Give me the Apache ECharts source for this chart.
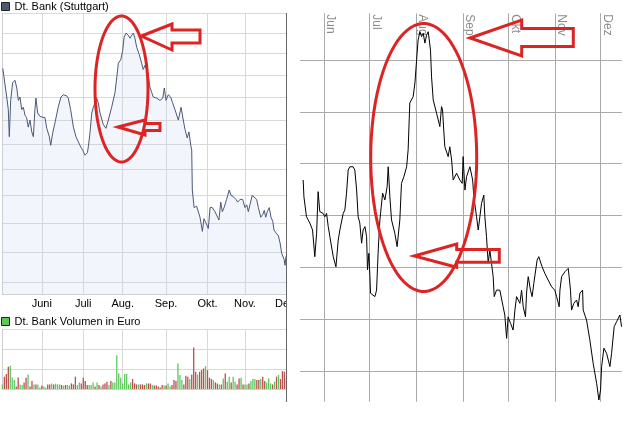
<!DOCTYPE html>
<html><head><meta charset="utf-8">
<script src="https://cdn.jsdelivr.net/npm/echarts@6/dist/echarts.min.js"></script>
<style>html,body{margin:0;padding:0;background:#fff}#c{width:627px;height:432px}</style>
</head><body><div id="c"></div>
<script>
// ---------- DATA ----------
const priceTitle = 'Dt. Bank (Stuttgart)';
const volumeTitle = 'Dt. Bank Volumen in Euro';
const priceMonthLabels = ['Juni','Juli','Aug.','Sep.','Okt.','Nov.','Dez.'];
const priceMonthTicks = [20,41,61,83,104,123,144];           // trading-day index
const priceGridValues = [36,38,40,42,44,46,48,50,52,54,56,58]; // log scale grid
const pricePoints = [
[0.2,52.6],[0.8,51.8],[2.2,50.0],[3.0,48.9],[3.5,46.6],[4.2,49.7],[5.2,51.3],[6.4,51.5],[7.3,50.8],[8.1,49.7],
[8.9,50.0],[9.8,48.9],[10.6,49.1],[11.5,48.4],[12.3,48.2],[13.1,47.4],[14.0,48.0],[14.9,47.0],[15.7,46.6],[16.5,48.9],
[17.0,49.9],[17.9,48.6],[19.1,48.3],[19.9,48.4],[21.6,48.2],[22.5,47.3],[23.8,46.6],[24.5,45.9],[25.5,46.9],[26.7,47.8],
[28.3,49.1],[29.7,50.0],[30.9,50.2],[32.6,50.1],[33.4,49.9],[34.6,48.9],[36.0,47.4],[37.3,46.6],[39.3,45.9],[40.7,45.5],
[41.9,45.1],[43.1,45.3],[43.6,45.8],[44.4,46.9],[45.3,48.6],[46.1,49.1],[47.0,49.5],[47.8,49.9],[48.6,49.5],[49.5,48.6],
[51.2,47.6],[52.5,47.3],[53.7,48.0],[55.4,49.1],[57.1,50.4],[58.0,51.8],[58.8,53.1],[60.0,53.4],[61.0,54.3],[61.7,55.6],
[62.7,56.0],[63.8,55.8],[64.7,55.5],[65.6,55.8],[66.4,56.0],[67.2,55.5],[68.1,54.6],[69.4,53.9],[70.6,53.1],[71.4,52.5],
[72.3,52.9],[73.2,52.5],[74.0,51.8],[74.8,50.9],[75.7,50.4],[76.5,50.0],[78.2,49.9],[79.9,49.7],[81.3,49.9],[82.1,50.8],
[83.0,49.7],[84.1,50.2],[85.3,50.0],[86.3,49.5],[87.5,48.9],[89.2,48.0],[90.6,49.1],[91.7,48.0],[92.6,47.2],[93.7,46.5],
[94.6,47.0],[95.5,45.9],[96.0,45.5],[96.3,42.4],[97.2,41.1],[98.5,41.2],[99.3,41.1],[100.2,40.4],[101.4,39.4],[102.2,40.3],
[103.2,40.0],[104.4,39.6],[105.3,41.1],[106.4,41.1],[107.8,40.8],[108.7,40.7],[109.8,40.2],[110.7,41.5],[111.5,40.8],[112.4,41.1],
[113.7,41.7],[115.0,42.4],[115.9,42.0],[117.1,41.9],[118.4,41.7],[119.3,41.5],[120.5,41.7],[121.8,41.7],[123.0,41.1],[123.9,41.3],
[124.7,40.8],[125.5,41.3],[126.7,42.0],[127.7,42.0],[128.9,41.7],[129.8,41.1],[131.0,40.4],[132.0,40.6],[132.8,40.9],[133.5,40.4],
[134.3,40.8],[135.3,41.1],[136.2,40.4],[137.1,40.1],[137.7,39.5],[138.7,39.3],[139.9,39.1],[140.8,38.6],[141.6,37.9],[142.8,37.5],
[143.3,37.1],[143.8,37.7]
];
const volumeValues = [
23,62,75,112,117,58,45,12,58,23, 20,33,57,73,12,40,23,23,23,8,
17,12,7,23,23,28,23,27,23,23, 20,17,20,20,17,28,23,62,20,33,
28,57,40,20,20,20,33,12,33,20, 12,23,28,37,20,40,33,33,170,78,
57,28,75,75,23,33,50,28,23,23, 23,23,20,28,28,28,20,17,17,12,
8,20,17,17,28,12,20,45,40,128, 70,45,23,67,62,50,73,208,87,73,
87,95,103,115,95,57,50,45,33,28, 23,23,53,78,37,62,33,62,37,23,
53,57,23,23,23,28,40,50,50,45, 45,50,62,40,33,53,28,23,37,62,
70,50,90,87,57
];
const volumeUp = [
1,0,0,0,1,1,1,0,0,1, 1,0,0,1,0,0,1,0,1,1,
0,1,1,0,0,1,0,1,1,1, 0,1,0,1,1,0,0,0,1,1,
0,0,0,0,1,1,1,0,1,0, 1,0,0,0,1,0,1,1,1,1,
1,1,1,1,1,1,0,0,0,1, 0,0,0,1,0,0,1,0,0,0,
0,0,1,0,1,1,0,0,0,1, 1,1,0,0,0,1,0,0,0,1,
0,0,0,1,0,0,0,1,0,0, 1,0,1,0,1,1,0,1,1,0,
0,1,0,1,1,0,1,1,1,0, 0,1,0,0,1,1,1,0,1,0,
1,0,0,0,0
];
const rightMonthLabels = ['Jun','Jul','Aug','Sep','Okt','Nov','Dez'];
const rightMonthStarts = [0,30,61,92,122,153,183];   // days since 1 June
const rightGridValues = [38,40,42,44,46,48,50];
const rightPoints = [
[-13.9,45.37],[-13.4,44.72],[-11.7,43.95],[-9.5,43.71],[-7.7,43.44],[-6.2,42.41],[-5.0,43.31],[-4.0,44.92],[-2.9,44.15],[-0.7,44.08],
[0.5,43.95],[1.6,44.08],[2.7,43.57],[3.8,43.18],[6.0,42.41],[7.8,42.02],[9.3,43.05],[10.4,43.44],[12.6,44.08],[13.7,44.21],
[14.8,44.86],[15.9,45.75],[17.0,45.88],[19.2,45.88],[20.3,45.75],[21.5,44.98],[22.5,43.95],[23.6,43.71],[24.8,42.93],[25.8,43.44],
[27.0,43.57],[28.1,43.18],[28.7,41.90],[29.6,42.54],[30.3,41.64],[30.7,41.00],[31.4,41.00],[33.6,40.87],[34.7,41.12],[35.8,42.67],
[36.9,43.83],[38.7,44.86],[40.2,44.60],[41.7,45.11],[42.4,45.88],[43.5,44.72],[44.6,43.83],[46.8,43.31],[48.3,42.80],[50.1,43.83],
[51.2,45.24],[52.8,45.50],[54.6,45.88],[55.6,46.53],[56.7,48.34],[58.9,48.58],[60.1,49.11],[61.2,50.00],[62.2,50.77],[63.4,51.09],
[64.5,50.90],[65.6,51.03],[66.7,50.65],[67.8,50.96],[68.9,51.09],[70.0,51.12],[70.4,50.38],[71.1,49.35],[72.2,48.46],[74.4,47.95],
[76.6,47.43],[77.7,48.20],[78.4,48.07],[79.3,47.18],[79.9,46.65],[82.1,46.27],[83.2,46.65],[84.4,46.14],[85.4,45.37],[87.7,45.63],
[89.8,45.37],[91.4,45.24],[92.0,46.27],[93.2,44.98],[94.3,45.50],[96.5,45.88],[98.3,45.37],[99.1,44.72],[100.9,43.95],[102.0,43.44],
[103.1,43.95],[104.2,44.47],[105.7,44.79],[106.4,43.95],[107.5,43.18],[108.6,42.16],[109.7,42.67],[110.8,42.16],[111.9,41.64],[112.6,40.87],
[114.1,41.12],[116.3,41.12],[117.5,41.12],[118.5,40.48],[119.6,40.16],[120.8,39.26],[121.8,40.09],[123.4,39.84],[125.1,39.58],[126.3,40.35],
[127.4,40.87],[129.6,40.61],[130.7,41.12],[131.8,40.48],[133.3,40.09],[134.0,41.01],[135.1,41.64],[136.6,41.12],[137.7,40.87],[138.8,41.38],
[141.0,42.28],[142.1,42.41],[144.3,42.02],[146.1,41.77],[148.3,41.51],[150.6,41.25],[152.7,41.12],[153.9,40.87],[155.6,40.48],[156.1,41.12],
[157.2,41.64],[159.4,41.83],[161.6,41.96],[162.2,41.64],[163.1,41.12],[163.8,40.35],[165.3,40.61],[167.1,40.74],[168.2,40.48],[169.3,41.00],
[171.1,41.12],[171.5,40.35],[173.7,39.97],[175.9,39.20],[178.1,38.30],[180.4,37.53],[181.9,36.88],[183.0,37.27],[183.7,38.17],[185.2,38.88],
[187.0,38.68],[189.2,38.17],[190.3,38.68],[192.0,39.71],[193.6,39.90],[195.8,40.16],[196.9,39.71]
];

// ---------- STYLE ----------
const FONT = '"Liberation Sans", Arial, sans-serif';
const RED = '#dd2424';
const volRed = '#b94f4f', volGreen = '#5cc85c';
const rightLabelShift = 4.3;

function ellipsePts(cx, cy, rx, ry) {
  const p = [];
  for (let k = 0; k < 90; k++) { const a = k / 90 * Math.PI * 2; p.push([cx + rx * Math.cos(a), cy + ry * Math.sin(a)]); }
  return p;
}
function annot(points) {
  return { type: 'polygon', z: 100, silent: true, shape: { points: points },
           style: { fill: null, stroke: RED, lineWidth: 3, lineJoin: 'miter' } };
}

const chart = echarts.init(document.getElementById('c'), null, { renderer: 'canvas' });

const leftSplit = { show: true, lineStyle: { color: '#d9d9d9', width: 1 } };

chart.setOption({
  animation: false,
  backgroundColor: '#fff',
  textStyle: { fontFamily: FONT },
  legend: [
    { data: [priceTitle], left: 1, top: 1, itemWidth: 8, itemHeight: 8, icon: 'rect', selectedMode: false, padding: 0,
      itemStyle: { borderColor: '#222', borderWidth: 1 },
      textStyle: { fontSize: 11, color: '#000', fontFamily: FONT } },
    { data: [volumeTitle], left: 1, top: 316, itemWidth: 8, itemHeight: 8, icon: 'rect', selectedMode: false, padding: 0,
      itemStyle: { borderColor: '#222', borderWidth: 1 },
      textStyle: { fontSize: 11, color: '#000', fontFamily: FONT } }
  ],
  grid: [
    { left: 2, right: 340.6, top: 13.3, bottom: 138, outerBoundsMode: 'none', containLabel: false },
    { left: 2, right: 340.6, top: 329.3, bottom: 43, outerBoundsMode: 'none', containLabel: false },
    { left: 300, right: 5.3, top: 13.3, bottom: 30.3, outerBoundsMode: 'none', containLabel: false }
  ],
  xAxis: [
    { gridIndex: 0, type: 'value', min: -0.2, max: 144, position: 'bottom',
      axisLine: { show: true, lineStyle: { color: '#cfcfcf' } },
      axisTick: { show: false, customValues: priceMonthTicks },
      axisLabel: { customValues: priceMonthTicks, margin: 4, fontSize: 11, color: '#000', fontFamily: FONT,
                   formatter: v => priceMonthLabels[priceMonthTicks.indexOf(v)] },
      splitLine: leftSplit },
    { gridIndex: 1, type: 'value', min: -0.2, max: 144, position: 'bottom',
      axisLine: { show: true, lineStyle: { color: '#cfcfcf' } },
      axisTick: { show: false, customValues: priceMonthTicks },
      axisLabel: { show: false },
      splitLine: leftSplit },
    { gridIndex: 2, type: 'value', min: -16, max: 197, position: 'top',
      axisLine: { show: false },
      axisTick: { show: false, customValues: rightMonthStarts },
      axisLabel: { customValues: rightMonthStarts.map(m => m + rightLabelShift), inside: true, rotate: 90, margin: 1,
                   fontSize: 12, color: '#8c8c8c', fontFamily: FONT,
                   formatter: v => { const i = rightMonthStarts.findIndex(m => Math.abs(m + rightLabelShift - v) < 1e-6); return i >= 0 ? rightMonthLabels[i] : ''; } },
      splitLine: { show: true, lineStyle: { color: '#aaaaaa', width: 1 } } }
  ],
  yAxis: [
    { gridIndex: 0, type: 'log', logBase: 10, min: 35.26, max: 58,
      axisLine: { show: true, lineStyle: { color: '#cfcfcf' } },
      axisTick: { show: false, customValues: priceGridValues },
      axisLabel: { show: false },
      splitLine: leftSplit },
    { gridIndex: 1, type: 'value', min: 0, max: 300, interval: 100,
      axisLine: { show: true, lineStyle: { color: '#cfcfcf' } },
      axisTick: { show: false }, axisLabel: { show: false },
      splitLine: leftSplit },
    { gridIndex: 2, type: 'value', min: 36.816, max: 51.8,
      axisLine: { show: false },
      axisTick: { show: false, customValues: rightGridValues },
      axisLabel: { show: false },
      splitLine: { show: true, lineStyle: { color: '#aaaaaa', width: 1 } } }
  ],
  series: [
    { name: priceTitle, type: 'line', xAxisIndex: 0, yAxisIndex: 0, data: pricePoints, showSymbol: false, symbol: 'none',
      color: '#4b5877', lineStyle: { color: '#4b5877', width: 1 },
      areaStyle: { color: 'rgba(190,202,236,0.28)', origin: 'start' } },
    { name: volumeTitle, type: 'bar', xAxisIndex: 1, yAxisIndex: 1, barWidth: 1.3, color: volGreen,
      data: volumeValues.map((v, i) => ({ value: [i, v], itemStyle: { color: volumeUp[i] ? volGreen : volRed } })) },
    { name: 'rechts', type: 'line', xAxisIndex: 2, yAxisIndex: 2, data: rightPoints, showSymbol: false, symbol: 'none',
      lineStyle: { color: '#000', width: 1 } }
  ],
  graphic: [
    { type: 'rect', z: 90, silent: true, shape: { x: 287, y: 295, width: 12, height: 18 }, style: { fill: '#fff' } },
    { type: 'line', z: 95, silent: true, shape: { x1: 286.5, y1: 13, x2: 286.5, y2: 402 }, style: { stroke: '#666', lineWidth: 1 } },
    annot(ellipsePts(121.5, 89, 26.5, 73)),
    annot([[141.5,36],[172,24],[172,30],[200,30],[200,43],[172,43],[172,50]]),
    annot([[118,127],[145,120],[145,123.5],[160,123.5],[160,130.5],[145,130.5],[145,135]]),
    annot(ellipsePts(423.7, 157.5, 53, 134)),
    annot([[470,38],[521.7,20],[521.7,28.5],[573.3,28.5],[573.3,46.5],[521.7,46.5],[521.7,56]]),
    annot([[414.3,256],[456.7,244],[456.7,249.5],[499.3,249.5],[499.3,262.3],[456.7,262.3],[456.7,267.3]])
  ]
});
</script></body></html>
